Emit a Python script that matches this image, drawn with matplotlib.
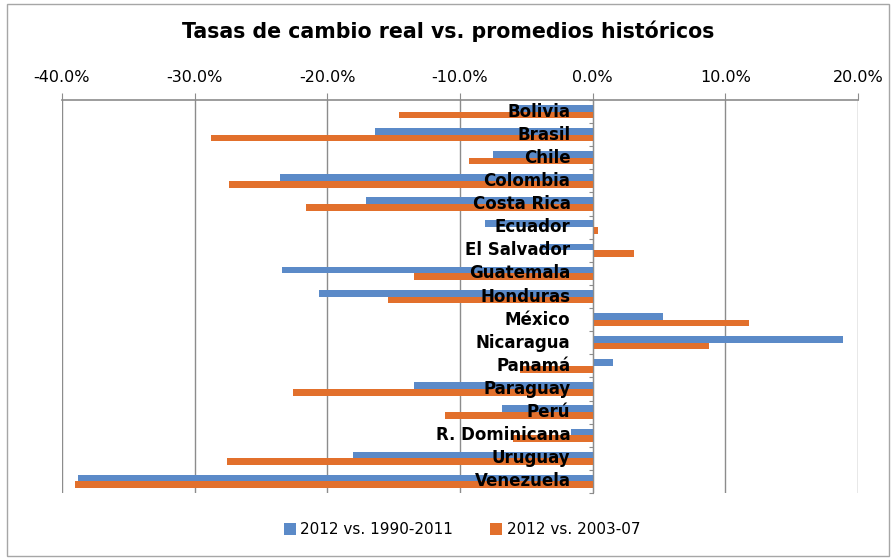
import numpy as np
import matplotlib.pyplot as plt
from matplotlib.patches import Rectangle

countries = ['Bolivia', 'Brasil', 'Chile', 'Colombia', 'Costa Rica', 'Ecuador',
             'El Salvador', 'Guatemala', 'Honduras', 'México', 'Nicaragua',
             'Panamá', 'Paraguay', 'Perú', 'R. Dominicana', 'Uruguay', 'Venezuela']
vs_1990_2011 = [-6.0, -16.4, -7.5, -23.6, -17.1, -8.1, -4.0, -23.4, -20.6,
                5.3, 18.9, 1.5, -13.5, -6.8, -1.6, -18.1, -38.8]
vs_2003_07 = [-14.6, -28.8, -9.3, -27.4, -21.6, 0.4, 3.1, -13.5, -15.4,
              11.8, 8.8, -5.5, -22.6, -11.1, -6.0, -27.6, -39.0]
x_ticks = [-40, -30, -20, -10, 0, 10, 20]

blue = '#5b8ac8'
orange = '#e2702c'
grey = '#8c8c8c'

fig = plt.figure(figsize=(8.96, 5.6), dpi=100)
fig.patches.append(Rectangle((7 / 896, 4 / 560), 882 / 896, 552 / 560,
                             transform=fig.transFigure, fill=False,
                             edgecolor='#a6a6a6', lw=1))

ax = fig.add_axes([62 / 896, 1 - 493 / 560, 796 / 896, 393 / 560])

y = np.arange(len(countries))
h = 0.29
ax.barh(y - h / 2, vs_1990_2011, height=h, color=blue, label='2012 vs. 1990-2011', zorder=2)
ax.barh(y + h / 2, vs_2003_07, height=h, color=orange, label='2012 vs. 2003-07', zorder=2)

ax.set_xlim(-40, 20)
ax.set_ylim(len(countries) - 0.5, -0.5)
ax.set_xticks(x_ticks)
ax.set_xticklabels(['%.1f%%' % v for v in x_ticks], fontsize=11.5)
ax.xaxis.tick_top()
ax.tick_params(axis='x', direction='out', length=5, color=grey, pad=6)
ax.grid(axis='x', color=grey, lw=1, zorder=0)

ax.spines['bottom'].set_visible(False)
ax.spines['right'].set_visible(False)
ax.spines['top'].set_color(grey)
ax.spines['top'].set_linewidth(1.2)
ax.spines['left'].set_position(('data', 0))
ax.spines['left'].set_color(grey)
ax.spines['left'].set_zorder(3)
ax.set_yticks(np.arange(len(countries) + 1) - 0.5)
ax.set_yticklabels([])
ax.tick_params(axis='y', direction='out', length=3, color=grey)

for yi, name in zip(y, countries):
    ax.annotate(name, (0, yi), xytext=(-16, 0), textcoords='offset points',
                ha='right', va='center', fontsize=12, fontweight='bold',
                zorder=5)

fig.text(0.5, 1 - 31 / 560, 'Tasas de cambio real vs. promedios históricos',
         ha='center', va='center', fontsize=14.8, fontweight='bold')

fig.legend(loc='center', bbox_to_anchor=(462 / 896, 1 - 530 / 560), ncol=2,
           frameon=False, fontsize=11, handlelength=0.8, handleheight=0.8,
           columnspacing=2.4, handletextpad=0.3)

fig.savefig('out.png', dpi=100)
